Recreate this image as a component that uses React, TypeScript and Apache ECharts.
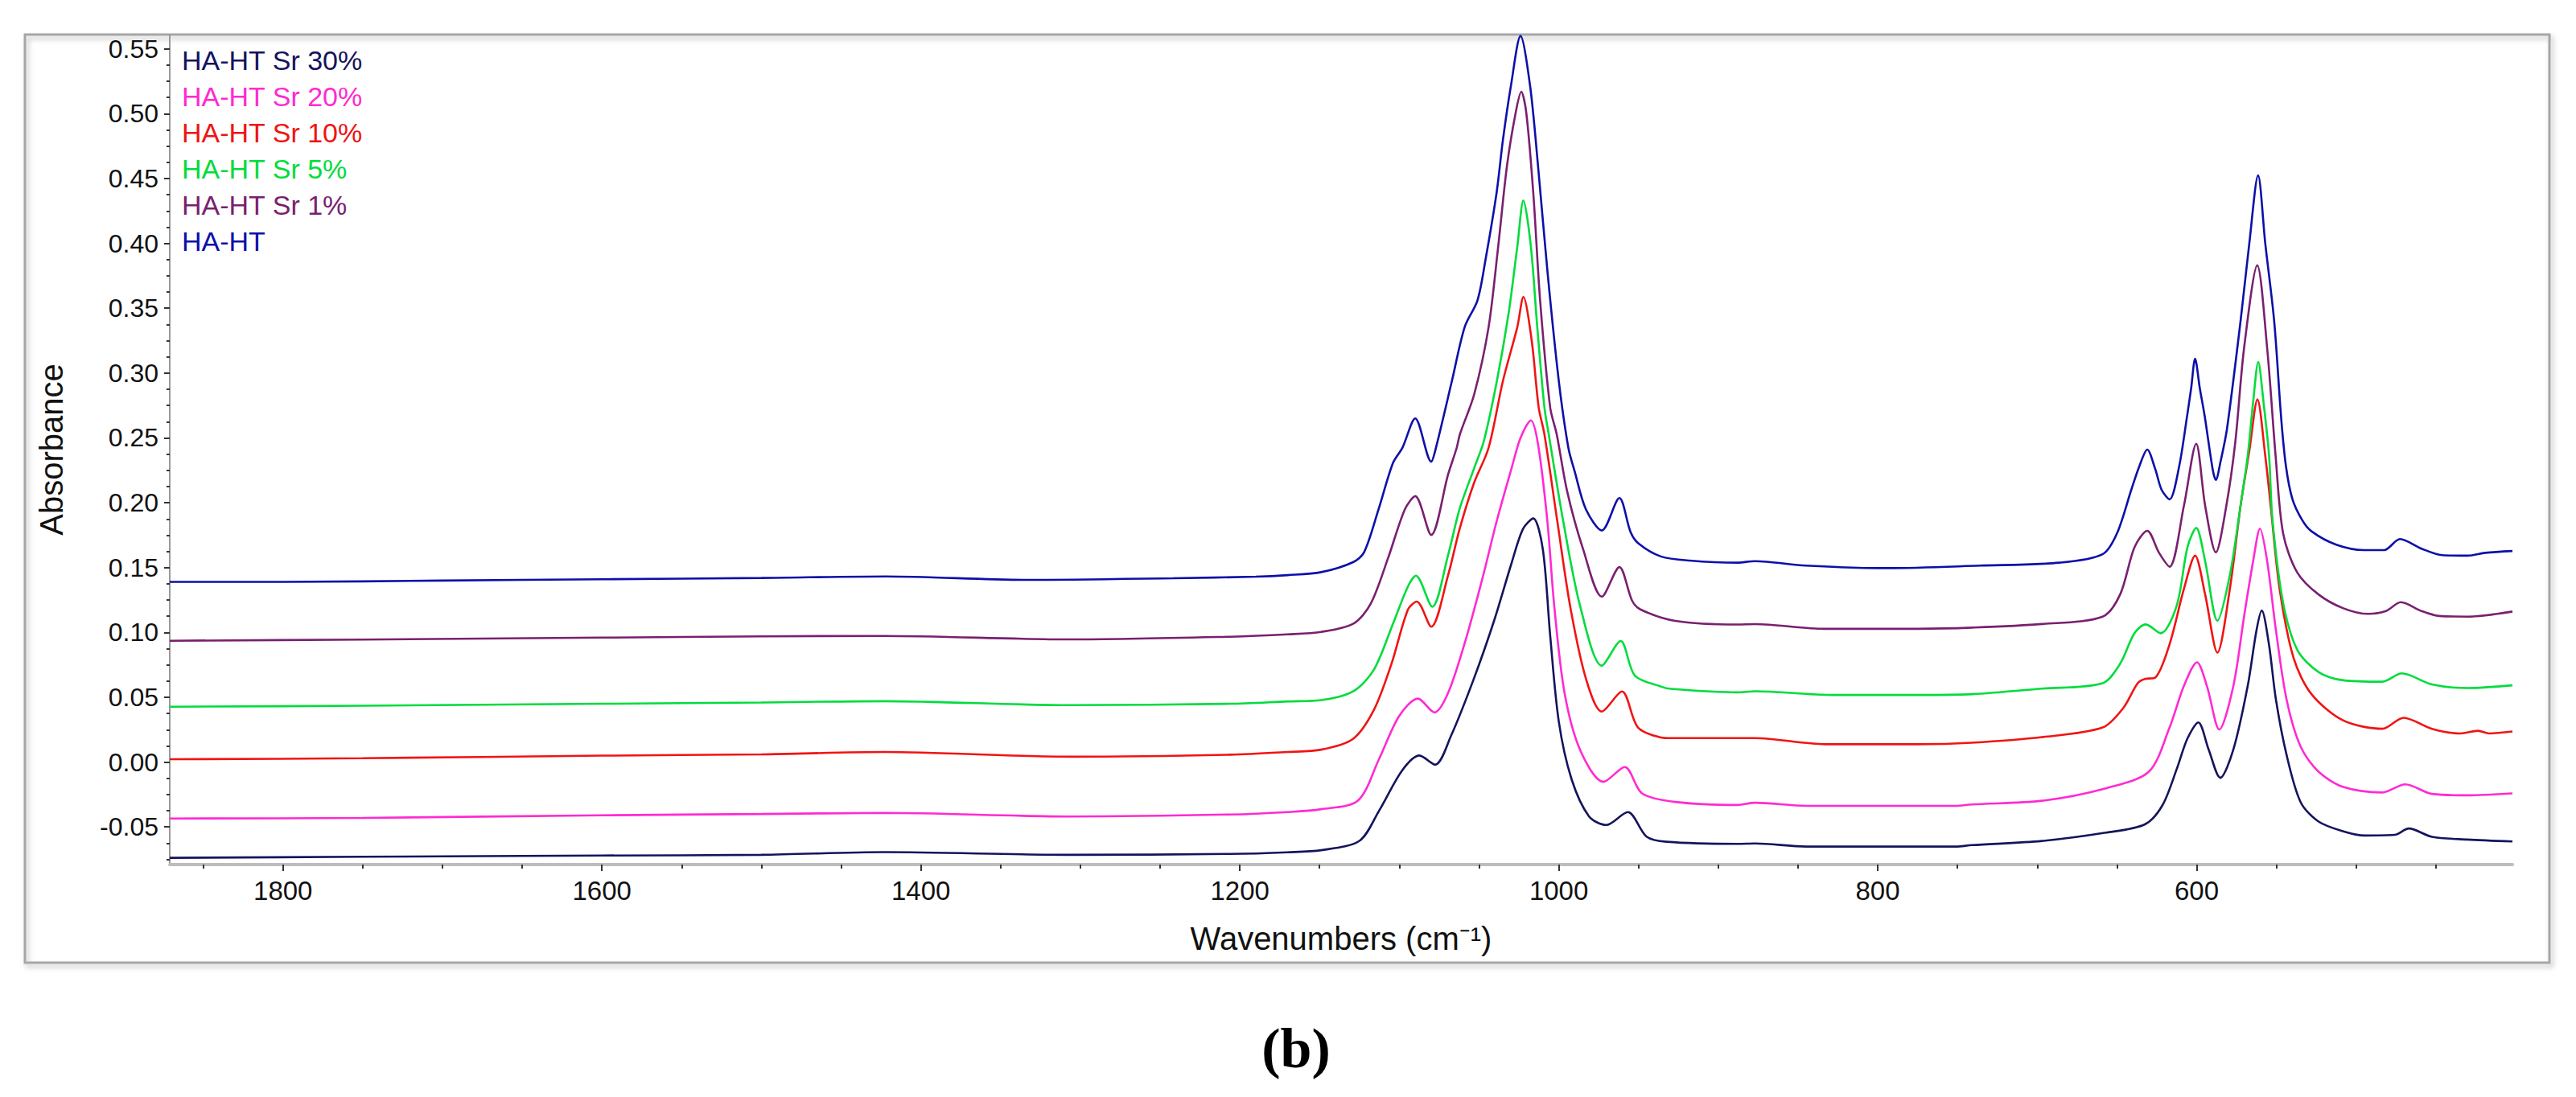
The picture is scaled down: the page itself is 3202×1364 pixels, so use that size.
import React, { useEffect, useRef } from 'react';
import * as echarts from 'echarts';

// ---- data: [wavenumber (cm-1), absorbance] ----
const seriesNames = ['HA-HT Sr 30%', 'HA-HT Sr 20%', 'HA-HT Sr 10%', 'HA-HT Sr 5%', 'HA-HT Sr 1%', 'HA-HT'];
const seriesColors = ['#14145e', '#ff2ad2', '#f01414', '#00dc3c', '#7a1f70', '#0d10a8'];

const haHt: [number, number][] = [
  [1871, 0.139], [1800, 0.139], [1700, 0.140], [1600, 0.141], [1500, 0.142], [1422, 0.1432], [1333, 0.1405],
  [1242, 0.1418], [1190, 0.143], [1170, 0.1442], [1149, 0.1465], [1129, 0.1542], [1122, 0.162], [1113, 0.195],
  [1104, 0.2306], [1098, 0.2425], [1090, 0.265], [1080, 0.2317], [1077, 0.2425], [1067, 0.294], [1059, 0.3355],
  [1051, 0.356], [1046, 0.387], [1039, 0.439], [1035, 0.48], [1030, 0.5216], [1024, 0.560], [1018, 0.5216],
  [1013, 0.4596], [1007, 0.377], [1000, 0.294], [994, 0.2424], [990, 0.224], [983, 0.195], [973, 0.1786],
  [962, 0.2036], [955, 0.1775], [950, 0.1686], [936, 0.1586], [918, 0.1554], [888, 0.1538], [877, 0.155],
  [845, 0.1515], [794, 0.1496], [736, 0.1515], [686, 0.1538], [659, 0.1603], [650, 0.1763], [641, 0.21],
  [636, 0.228], [631, 0.241], [626, 0.226], [622, 0.21], [617, 0.2026], [611, 0.228], [606, 0.267],
  [603.5, 0.288], [601, 0.311], [598, 0.288], [595, 0.267], [590, 0.226], [588, 0.2176], [585, 0.232],
  [581, 0.257], [572.5, 0.34], [567, 0.40], [561.5, 0.4524], [557, 0.40], [551.4, 0.34], [547, 0.265],
  [544, 0.228], [540, 0.203], [534, 0.187], [528, 0.178], [512.5, 0.1677], [495, 0.1635], [482.5, 0.1635],
  [472.5, 0.172], [459, 0.1646], [446, 0.1596], [430, 0.1592], [419, 0.1614], [402, 0.1628],
];

const haHtSr1: [number, number][] = [
  [1871, 0.0936], [1750, 0.0945], [1600, 0.096], [1500, 0.097], [1423, 0.0973], [1306, 0.0946], [1206, 0.0967],
  [1170, 0.0985], [1149, 0.1004], [1129, 0.1066], [1118, 0.122], [1107, 0.1575], [1096.5, 0.195], [1090, 0.2051],
  [1080, 0.1752], [1069.4, 0.2218], [1064, 0.2424], [1062, 0.2528], [1053, 0.2838], [1044, 0.3355],
  [1038, 0.3975], [1032.5, 0.4596], [1027, 0.501], [1023.5, 0.517], [1020.4, 0.501], [1016, 0.439],
  [1011.7, 0.356], [1005.4, 0.2735], [1001.3, 0.2528], [994.7, 0.2085], [984.7, 0.164], [973, 0.1276],
  [962, 0.1504], [954, 0.1244], [948.6, 0.1176], [927, 0.1089], [888, 0.1061], [877, 0.1064], [833, 0.1028],
  [775, 0.1028], [741, 0.1037], [697, 0.1065], [659, 0.1122], [648, 0.1293], [639, 0.1656], [631, 0.1784],
  [623.6, 0.1614], [617, 0.1507], [608, 0.1977], [600.3, 0.2455], [594.7, 0.1977], [588, 0.1618],
  [581.4, 0.1977], [575.8, 0.2466], [570.3, 0.319], [562, 0.3831], [555.8, 0.319], [550.5, 0.236],
  [545.8, 0.1763], [537, 0.1464], [523.6, 0.1293], [508, 0.1186], [492.4, 0.1143], [481.3, 0.1165],
  [472, 0.1233], [459, 0.1165], [448, 0.1127], [430, 0.1122], [402, 0.1161],
];

const haHtSr5: [number, number][] = [
  [1871, 0.0427], [1750, 0.0435], [1600, 0.045], [1500, 0.046], [1423, 0.047], [1306, 0.0439], [1206, 0.045],
  [1170, 0.0468], [1149, 0.0478], [1129, 0.0545], [1116, 0.0711], [1104, 0.1066], [1094.6, 0.1354],
  [1089.6, 0.1438], [1079.3, 0.1198], [1069.4, 0.1597], [1062.2, 0.1952], [1053.2, 0.2262], [1047, 0.2475],
  [1038.8, 0.294], [1031.5, 0.3458], [1026, 0.3975], [1022.2, 0.433], [1017.5, 0.3975], [1013.5, 0.3355],
  [1009, 0.2735], [1006.3, 0.2528], [997.3, 0.1864], [986.5, 0.1198], [973, 0.0744], [961.2, 0.0934],
  [952.3, 0.0667], [936, 0.0583], [929.7, 0.0565], [888, 0.0538], [877, 0.0546], [829, 0.0518], [775, 0.0518],
  [741, 0.0524], [697, 0.0567], [659, 0.0609], [648, 0.0759], [639, 0.0994], [632, 0.1062], [622.5, 0.0994],
  [612.5, 0.1208], [605.8, 0.1656], [600.3, 0.1806], [594.7, 0.155], [587, 0.109], [579.2, 0.1442],
  [572.5, 0.1977], [568, 0.2362], [564.6, 0.2776], [561.4, 0.3086], [558.1, 0.2776], [554.6, 0.2362],
  [552.5, 0.187], [545.8, 0.1229], [536.9, 0.0865], [523.6, 0.0695], [508, 0.0631], [483.6, 0.062],
  [471.4, 0.0684], [452.5, 0.0599], [430.3, 0.0571], [402, 0.0592],
];

const haHtSr10: [number, number][] = [
  [1871, 0.0022], [1750, 0.003], [1600, 0.005], [1500, 0.006], [1423, 0.0078], [1306, 0.0042], [1206, 0.0057],
  [1170, 0.0078], [1149, 0.0096], [1129, 0.0179], [1116, 0.0401], [1105, 0.0755], [1094.6, 0.1176],
  [1089, 0.1238], [1080, 0.1044], [1069.4, 0.1442], [1062.2, 0.1797], [1053.2, 0.2151], [1044, 0.2424],
  [1035, 0.294], [1026, 0.3355], [1022.2, 0.3587], [1017, 0.3252], [1012.6, 0.2735], [1009, 0.2528],
  [1001, 0.1864], [992.8, 0.1198], [983, 0.0645], [973, 0.039], [960.4, 0.0545], [950.4, 0.0268], [936, 0.019],
  [930, 0.0185], [877, 0.0185], [833, 0.0138], [775, 0.0138], [741, 0.015], [697, 0.0193], [659, 0.0267],
  [646, 0.0418], [637, 0.0609], [632.5, 0.0641], [626, 0.0652], [617, 0.0909], [608, 0.1336], [601, 0.1592],
  [594.7, 0.1293], [587, 0.0844], [579.2, 0.1336], [572.5, 0.1976], [567, 0.24], [561.9, 0.2797],
  [557, 0.2362], [553.6, 0.1977], [548, 0.1336], [539.2, 0.0801], [528, 0.0524], [508, 0.0321],
  [483.6, 0.0257], [470.3, 0.0342], [452.5, 0.0257], [434.7, 0.0221], [423.6, 0.0242], [416.6, 0.0221],
  [402, 0.0236],
];

const haHtSr20: [number, number][] = [
  [1871, -0.0435], [1750, -0.043], [1600, -0.041], [1500, -0.040], [1423, -0.0392], [1306, -0.0419],
  [1206, -0.0404], [1170, -0.0385], [1149, -0.0363], [1126, -0.0297], [1112.7, 0.0024], [1100, 0.0357],
  [1088.3, 0.049], [1078, 0.0383], [1069.4, 0.0534], [1058.6, 0.0934], [1047.8, 0.142], [1038.8, 0.1864],
  [1029.7, 0.2262], [1024, 0.25], [1017.5, 0.2635], [1013, 0.245], [1007.2, 0.1864], [1002.8, 0.1198],
  [996.4, 0.0534], [986.5, 0.009], [972, -0.0152], [958.6, -0.0038], [947.8, -0.0241], [927, -0.0307],
  [888, -0.033], [877, -0.0313], [845, -0.0337], [751, -0.0337], [741, -0.0326], [697, -0.0298],
  [657, -0.0202], [630, -0.0074], [617, 0.0267], [608, 0.0588], [599.8, 0.077], [593.6, 0.0588],
  [585.8, 0.0251], [577, 0.0588], [570.3, 0.1122], [564.6, 0.155], [560.3, 0.1801], [555.8, 0.155],
  [550.3, 0.1016], [543.6, 0.0481], [534.8, 0.0118], [523.6, -0.0074], [508, -0.0192], [483.6, -0.0234],
  [469.2, -0.0171], [452.5, -0.0245], [430.3, -0.0256], [402, -0.0241],
];

const haHtSr30: [number, number][] = [
  [1871, -0.0738], [1750, -0.073], [1600, -0.072], [1500, -0.0715], [1423, -0.0694], [1306, -0.0715],
  [1206, -0.0708], [1170, -0.0695], [1149, -0.0679], [1125, -0.0607], [1112.7, -0.0375], [1098.2, -0.0064],
  [1087.4, 0.0051], [1077.5, -0.002], [1067.6, 0.0202], [1053.2, 0.0645], [1040.6, 0.1089], [1029.7, 0.1531],
  [1022.5, 0.1797], [1016, 0.1879], [1010, 0.1641], [1005.4, 0.0977], [1000, 0.0313], [992, -0.0131],
  [981, -0.0419], [970.3, -0.0485], [956.7, -0.0385], [945, -0.0574], [932.4, -0.0614], [888, -0.063],
  [877, -0.0627], [845, -0.0651], [751, -0.0651], [741, -0.064], [697, -0.0608], [657, -0.0544],
  [632.5, -0.048], [621.4, -0.0331], [612.5, -0.0053], [605.8, 0.0182], [599, 0.0306], [592.5, 0.0097],
  [585.2, -0.0121], [577, 0.0097], [568, 0.0588], [562.5, 0.1016], [559.2, 0.1169], [554.7, 0.0909],
  [550.3, 0.0481], [543.6, 0.0054], [534.8, -0.0309], [523.6, -0.0458], [508, -0.0534], [494.7, -0.0566],
  [475.8, -0.0561], [467, -0.0512], [452.5, -0.0576], [430.3, -0.0597], [402, -0.0612],
];

const seriesData = [haHtSr30, haHtSr20, haHtSr10, haHtSr5, haHtSr1, haHt];

// ---- axes ----
const yTicks = [-0.05, 0, 0.05, 0.1, 0.15, 0.2, 0.25, 0.3, 0.35, 0.4, 0.45, 0.5, 0.55];
const yMinorTicks = [
  -0.075, -0.0625, -0.0375, -0.025, -0.0125, 0.0125, 0.025, 0.0375, 0.0625, 0.075, 0.0875, 0.1125, 0.125,
  0.1375, 0.1625, 0.175, 0.1875, 0.2125, 0.225, 0.2375, 0.2625, 0.275, 0.2875, 0.3125, 0.325, 0.3375,
  0.3625, 0.375, 0.3875, 0.4125, 0.425, 0.4375, 0.4625, 0.475, 0.4875, 0.5125, 0.525, 0.5375,
];
const xTicks = [600, 800, 1000, 1200, 1400, 1600, 1800];
const xMinorTicks = [450, 500, 550, 650, 700, 750, 850, 900, 950, 1050, 1100, 1150, 1250, 1300, 1350, 1450, 1500, 1550, 1650, 1700, 1750, 1850];
const xMin = 402;
const xMax = 1871;
const yMin = -0.079;
const yMax = 0.561;

const FONT = 'Liberation Sans, Arial, sans-serif';

export default function App() {
  const ref = useRef<HTMLDivElement>(null);

  useEffect(() => {
    if (!ref.current) return;
    const chart = echarts.init(ref.current, null, { renderer: 'svg' });
    const gridLeft = 211;
    const gridTop = 43;
    const gridRight = 79;
    const gridBottom = 289;

    chart.setOption({
      animation: false,
      backgroundColor: '#ffffff',
      grid: { left: gridLeft, top: gridTop, right: gridRight, bottom: gridBottom, containLabel: false },
      legend: {
        orient: 'vertical',
        left: 216,
        top: 53,
        icon: 'none',
        itemWidth: 0,
        itemHeight: 34,
        itemGap: 11,
        selectedMode: false,
        textStyle: { fontFamily: FONT, fontSize: 34, lineHeight: 34 },
        data: seriesNames.map((n, i) => ({ name: n, textStyle: { color: seriesColors[i] } })),
      },
      xAxis: [
        {
          type: 'value',
          min: xMin,
          max: xMax,
          inverse: true,
          position: 'bottom',
          name: 'Wavenumbers (cm⁻¹)',
          nameLocation: 'middle',
          nameGap: 72,
          nameTextStyle: { fontFamily: FONT, fontSize: 40, color: '#111' },
          axisLine: { show: true, onZero: false, lineStyle: { color: '#bdbdbd', width: 4 } },
          axisTick: { show: true, customValues: xTicks, length: 8, lineStyle: { color: '#333', width: 2 } },
          axisLabel: {
            customValues: xTicks,
            margin: 16,
            fontFamily: FONT,
            fontSize: 33,
            color: '#111',
            formatter: (v: number) => String(v),
          },
          splitLine: { show: false },
        },
        {
          type: 'value',
          min: xMin,
          max: xMax,
          inverse: true,
          position: 'bottom',
          axisLine: { show: false, onZero: false },
          axisTick: { show: true, customValues: xMinorTicks, length: 5, lineStyle: { color: '#333', width: 2 } },
          axisLabel: { show: false },
          splitLine: { show: false },
        },
      ],
      yAxis: [
        {
          type: 'value',
          min: yMin,
          max: yMax,
          position: 'left',
          name: 'Absorbance',
          nameLocation: 'middle',
          nameGap: 127,
          nameRotate: 90,
          nameTextStyle: { fontFamily: FONT, fontSize: 40, color: '#111' },
          axisLine: { show: true, onZero: false, lineStyle: { color: '#9a9a9a', width: 2 } },
          axisTick: { show: true, customValues: yTicks, length: 7, lineStyle: { color: '#333', width: 2 } },
          axisLabel: {
            customValues: yTicks,
            margin: 14,
            fontFamily: FONT,
            fontSize: 32,
            color: '#111',
            formatter: (v: number) => v.toFixed(2),
          },
          splitLine: { show: false },
        },
        {
          type: 'value',
          min: yMin,
          max: yMax,
          position: 'left',
          axisLine: { show: false, onZero: false },
          axisTick: { show: true, customValues: yMinorTicks, length: 4, lineStyle: { color: '#333', width: 2 } },
          axisLabel: { show: false },
          splitLine: { show: false },
        },
      ],
      graphic: [
        {
          type: 'rect',
          z: -1,
          shape: { x: 31, y: 43, width: 3138, height: 1154 },
          style: {
            fill: 'none',
            stroke: '#a6a6a6',
            lineWidth: 3,
            shadowColor: 'rgba(0,0,0,0.25)',
            shadowBlur: 6,
            shadowOffsetX: 3,
            shadowOffsetY: 4,
          },
        },
        {
          type: 'text',
          x: 1611,
          y: 1303,
          style: {
            text: '(b)',
            font: 'bold 70px "Liberation Serif", "Times New Roman", serif',
            fill: '#000',
            textAlign: 'center',
            textVerticalAlign: 'middle',
          },
        },
      ],
      series: seriesNames.map((n, i) => ({
        name: n,
        type: 'line',
        xAxisIndex: 0,
        yAxisIndex: 0,
        data: seriesData[i],
        showSymbol: false,
        smooth: 0.3,
        lineStyle: { color: seriesColors[i], width: 2.6 },
        itemStyle: { color: seriesColors[i] },
        z: 2 + i,
      })),
    });

    return () => chart.dispose();
  }, []);

  return (
    <div
      ref={ref}
      style={{ position: 'absolute', left: 0, top: 0, width: 3202, height: 1364, background: '#ffffff' }}
    />
  );
}
